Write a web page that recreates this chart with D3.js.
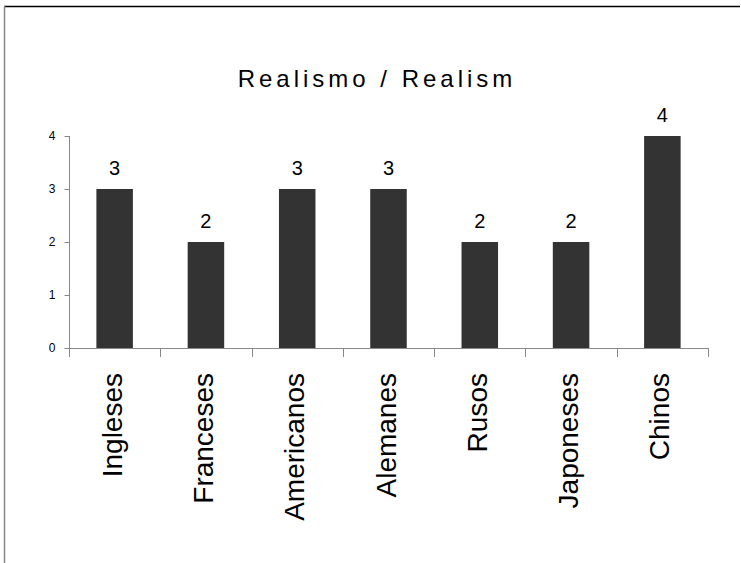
<!DOCTYPE html>
<html>
<head>
<meta charset="utf-8">
<script src="https://cdn.jsdelivr.net/npm/d3@7"></script>
<style>
  html, body { margin: 0; padding: 0; background: #fff; }
  svg { display: block; font-family: "Liberation Sans", Arial, sans-serif; }
</style>
</head>
<body>
<svg id="chart" width="741" height="563"></svg>
<script>
const categories = ["Ingleses", "Franceses", "Americanos", "Alemanes", "Rusos", "Japoneses", "Chinos"];
const values = [3, 2, 3, 3, 2, 2, 4];
const yTicks = [0, 1, 2, 3, 4];
const title = "Realismo / Realism";

(function () {
const svg = d3.select("#chart");
const W = 741, H = 563;
const pLeft = 69, pRight = 708, pTop = 136, pBottom = 348;

// frame
svg.append("line").attr("x1", 4).attr("x2", 740).attr("y1", 6.5).attr("y2", 6.5)
  .attr("stroke", "#000").attr("stroke-width", 1.5);
svg.append("line").attr("x1", 4.5).attr("x2", 4.5).attr("y1", 6).attr("y2", H)
  .attr("stroke", "#888").attr("stroke-width", 1.5);

const x = d3.scaleBand().domain(categories).range([pLeft, pRight])
  .paddingInner(0.6).paddingOuter(0.3);
const y = d3.scaleLinear().domain([0, 4]).range([pBottom, pTop]);

// title
svg.append("text").attr("x", 377).attr("y", 87)
  .attr("text-anchor", "middle").attr("font-size", 24)
  .attr("letter-spacing", "4px").attr("fill", "#000").text(title);

// y axis
const yAxis = d3.axisLeft(y).tickValues(yTicks).tickFormat(d3.format("d"))
  .tickSize(5).tickPadding(9);
const gy = svg.append("g").attr("transform", `translate(${pLeft + 0.5},0)`).call(yAxis);
gy.select(".domain").remove();
gy.selectAll(".tick line").attr("stroke", "#888");
gy.selectAll(".tick text").attr("font-size", 12).attr("fill", "#000")
  .attr("font-family", "Liberation Sans, Arial, sans-serif");
gy.append("line").attr("x1", 0).attr("x2", 0).attr("y1", y(4)).attr("y2", pBottom + 9)
  .attr("stroke", "#888");

// x axis line
svg.append("line").attr("x1", pLeft).attr("x2", pRight).attr("y1", pBottom + 0.5).attr("y2", pBottom + 0.5)
  .attr("stroke", "#888");
// category boundary ticks
const step = x.step();
const boundaries = categories.map(c => x(c) - step * x.paddingOuter()).concat([pRight]);
svg.selectAll("line.ctick").data(boundaries.slice(1)).enter().append("line")
  .attr("class", "ctick")
  .attr("x1", d => Math.round(d) + 0.5).attr("x2", d => Math.round(d) + 0.5)
  .attr("y1", pBottom).attr("y2", pBottom + 9).attr("stroke", "#888");

// bars
svg.selectAll("rect.bar").data(categories).enter().append("rect")
  .attr("class", "bar")
  .attr("x", d => x(d)).attr("width", x.bandwidth())
  .attr("y", (d, i) => y(values[i])).attr("height", (d, i) => y(0) - y(values[i]))
  .attr("fill", "#333333");

// value labels
svg.selectAll("text.val").data(categories).enter().append("text")
  .attr("class", "val")
  .attr("x", d => x(d) + x.bandwidth() / 2)
  .attr("y", (d, i) => y(values[i]) - 14)
  .attr("text-anchor", "middle").attr("font-size", 20).attr("fill", "#000")
  .text((d, i) => values[i]);

// category labels
svg.selectAll("text.cat").data(categories).enter().append("text")
  .attr("class", "cat")
  .attr("transform", d => `translate(${x(d) + x.bandwidth() / 2 + 7},373) rotate(-90)`)
  .attr("text-anchor", "end").attr("font-size", 28).attr("fill", "#000")
  .text(d => d);
})();
</script>
</body>
</html>
